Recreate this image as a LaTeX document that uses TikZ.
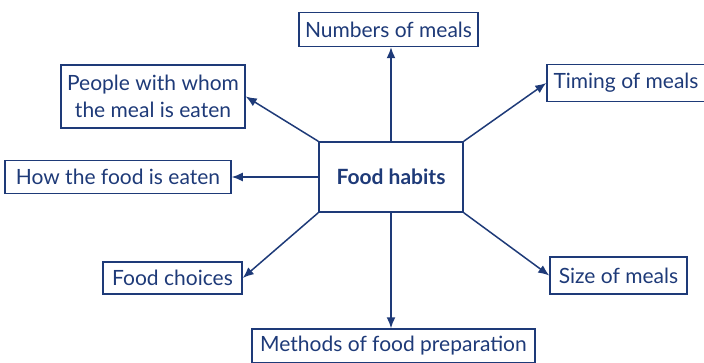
\documentclass[tikz,border=0pt]{standalone}
\usepackage{fontspec}
\setmainfont{Lato}
\usetikzlibrary{arrows.meta}
\definecolor{navy}{HTML}{1E3A78}
\tikzset{
  box/.style={draw=navy, line width=1.5pt, text=navy, inner sep=0pt, align=center, font=\fontsize{21}{27}\selectfont},
  conn/.style={draw=navy, line width=1.5pt, -{Latex[length=11pt,width=9pt]}}
}
\begin{document}
\begin{tikzpicture}[x=1pt,y=-1pt]
\useasboundingbox (0,0) rectangle (704,363);
\node[box, minimum width=144pt, minimum height=70pt, font=\fontsize{21}{27}\selectfont\bfseries] (fh) at (391,177) {Food habits};
\node[box, minimum width=179pt, minimum height=34pt] (num) at (388.5,29.5) {Numbers of meals};
\node[box, minimum width=158pt, minimum height=37pt] (tim) at (626,83) {Timing of meals};
\node[box, minimum width=184pt, minimum height=63pt] (peo) at (153,96.5) {People with whom\\the meal is eaten};
\node[box, minimum width=226pt, minimum height=33pt] (how) at (118,177) {How the food is eaten};
\node[box, minimum width=139pt, minimum height=32pt] (cho) at (172.5,278) {Food choices};
\node[box, minimum width=283pt, minimum height=34pt] (met) at (393.5,346) {Methods of food preparation};
\node[box, minimum width=137pt, minimum height=37pt] (siz) at (618.5,275.5) {Size of meals};
\draw[conn] (fh.north) -- (fh.north |- num.south);
\draw[conn] (fh.south) -- (fh.south |- met.north);
\draw[conn] (fh.west) -- (how.east);
\draw[conn] (fh.north west) -- (peo.east);
\draw[conn] (fh.north east) -- (tim.west);
\draw[conn] (fh.south west) -- (cho.east);
\draw[conn] (fh.south east) -- (siz.west);
\end{tikzpicture}
\end{document}
